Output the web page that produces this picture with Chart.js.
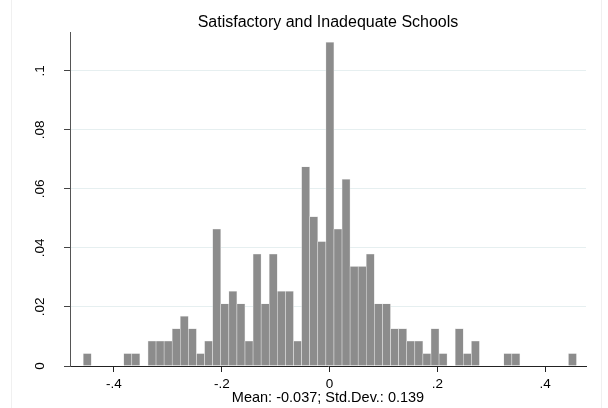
<!DOCTYPE html>
<html>
<head>
<meta charset="utf-8">
<script src="https://cdn.jsdelivr.net/npm/chart.js@4/dist/chart.umd.min.js"></script>
<style>
  html, body { margin: 0; padding: 0; background: #fff; }
  #wrap { position: relative; width: 608px; height: 408px; }
  #frame { position: absolute; left: 11px; top: 0; width: 589px; height: 408px;
           border-left: 1px solid #f0f0f0; border-right: 1px solid #f0f0f0; pointer-events: none; }
</style>
</head>
<body>
<div id="wrap">
  <canvas id="c" width="608" height="408"></canvas>
  <div id="frame"></div>
</div>
<script>
// Histogram bin centres (bin width 0.015)
const binCenters = [
  -0.4495, -0.4345, -0.4195, -0.4045, -0.3895, -0.3745, -0.3595, -0.3445, -0.3295, -0.3145,
  -0.2995, -0.2845, -0.2695, -0.2545, -0.2395, -0.2245, -0.2095, -0.1945, -0.1795, -0.1645,
  -0.1495, -0.1345, -0.1195, -0.1045, -0.0895, -0.0745, -0.0595, -0.0445, -0.0295, -0.0145,
   0.0005,  0.0155,  0.0305,  0.0455,  0.0605,  0.0755,  0.0905,  0.1055,  0.1205,  0.1355,
   0.1505,  0.1655,  0.1805,  0.1955,  0.2105,  0.2255,  0.2405,  0.2555,  0.2705,  0.2855,
   0.3005,  0.3155,  0.3305,  0.3455,  0.3605,  0.3755,  0.3905,  0.4055,  0.4205,  0.4355,
   0.4505
];
// Fraction of observations in each bin
const fractions = [
  0.00422, 0, 0, 0, 0, 0.00422, 0.00422, 0, 0.00844, 0.00844,
  0.00844, 0.01266, 0.01688, 0.01266, 0.00422, 0.00844, 0.04641, 0.0211, 0.02532, 0.0211,
  0.00844, 0.03797, 0.0211, 0.03797, 0.02532, 0.02532, 0.00844, 0.06751, 0.05063, 0.04219,
  0.1097, 0.04641, 0.06329, 0.03376, 0.03376, 0.03797, 0.0211, 0.0211, 0.01266, 0.01266,
  0.00844, 0.00844, 0.00422, 0.01266, 0.00422, 0, 0.01266, 0.00422, 0.00844, 0,
  0, 0, 0.00422, 0.00422, 0, 0, 0, 0, 0, 0,
  0.00422
];
const xTickValues = [-0.4, -0.2, 0, 0.2, 0.4];
const xTickLabels = ['-.4', '-.2', '0', '.2', '.4'];
const yTickValues = [0, 0.02, 0.04, 0.06, 0.08, 0.1];
const yTickLabels = ['0', '.02', '.04', '.06', '.08', '.1'];
const titleText = 'Satisfactory and Inadequate Schools';
const xTitleText = 'Mean: -0.037; Std.Dev.: 0.139';

const FONT = "'Liberation Sans', Arial, Helvetica, sans-serif";

const yLabelPlugin = {
  id: 'yLabels',
  afterDraw(chart) {
    const s = chart.scales.y;
    const ctx = chart.ctx;
    ctx.save();
    ctx.font = '13.5px ' + FONT;
    ctx.fillStyle = '#000';
    ctx.textAlign = 'center';
    ctx.textBaseline = 'middle';
    s.ticks.forEach((t, i) => {
      const y = s.getPixelForValue(t.value);
      ctx.save();
      ctx.translate(40, y);
      ctx.rotate(-Math.PI / 2);
      ctx.fillText(yTickLabels[i], 0, 0);
      ctx.restore();
    });
    ctx.restore();
  }
};

new Chart(document.getElementById('c'), {
  type: 'bar',
  data: {
    datasets: [{
      data: binCenters.map((x, i) => ({ x: x, y: fractions[i] })),
      backgroundColor: '#8c8c8c',
      borderColor: '#e4e4e4',
      borderWidth: 0.6,
      borderSkipped: 'start',
      barPercentage: 1,
      categoryPercentage: 1
    }]
  },
  options: {
    responsive: false,
    animation: false,
    events: [],
    layout: { padding: { left: 0, right: 22, top: 0, bottom: 0 } },
    plugins: {
      legend: { display: false },
      tooltip: { enabled: false },
      title: {
        display: true,
        text: titleText,
        fullSize: false,
        color: '#000',
        font: { family: FONT, size: 16, weight: 'normal', lineHeight: 1.1 },
        padding: { top: 13.4, bottom: 1.3 }
      }
    },
    scales: {
      x: {
        type: 'linear',
        offset: false,
        min: -0.4816,
        max: 0.4756,
        afterBuildTicks: s => { s.ticks = xTickValues.map(v => ({ value: v })); },
        afterFit: s => { s.height = 42; },
        grid: { offset: false, drawOnChartArea: false, drawTicks: true, tickLength: 6, tickColor: '#222', lineWidth: 1 },
        border: { display: true, color: '#222', width: 1, z: 1 },
        ticks: {
          autoSkip: false, maxRotation: 0, minRotation: 0, padding: 4,
          color: '#000',
          font: { family: FONT, size: 13.5 },
          callback: (v, i) => xTickLabels[i]
        },
        title: {
          display: true, text: xTitleText, color: '#000',
          font: { family: FONT, size: 14.5, lineHeight: 1.2 },
          padding: { top: 0, bottom: 1.8 }
        }
      },
      y: {
        type: 'linear',
        min: 0,
        max: 0.1131,
        afterBuildTicks: s => { s.ticks = yTickValues.map(v => ({ value: v })); },
        afterFit: s => { s.width = 70; },
        grid: {
          drawOnChartArea: true, drawTicks: true, tickLength: 6,
          color: ctx => (ctx.tick && ctx.tick.value === 0) ? 'rgba(0,0,0,0)' : '#e6eff0',
          tickColor: '#444', lineWidth: 1
        },
        border: { display: true, color: '#555', width: 1, z: 1 },
        ticks: { display: false }
      }
    }
  },
  plugins: [yLabelPlugin]
});
</script>
</body>
</html>
